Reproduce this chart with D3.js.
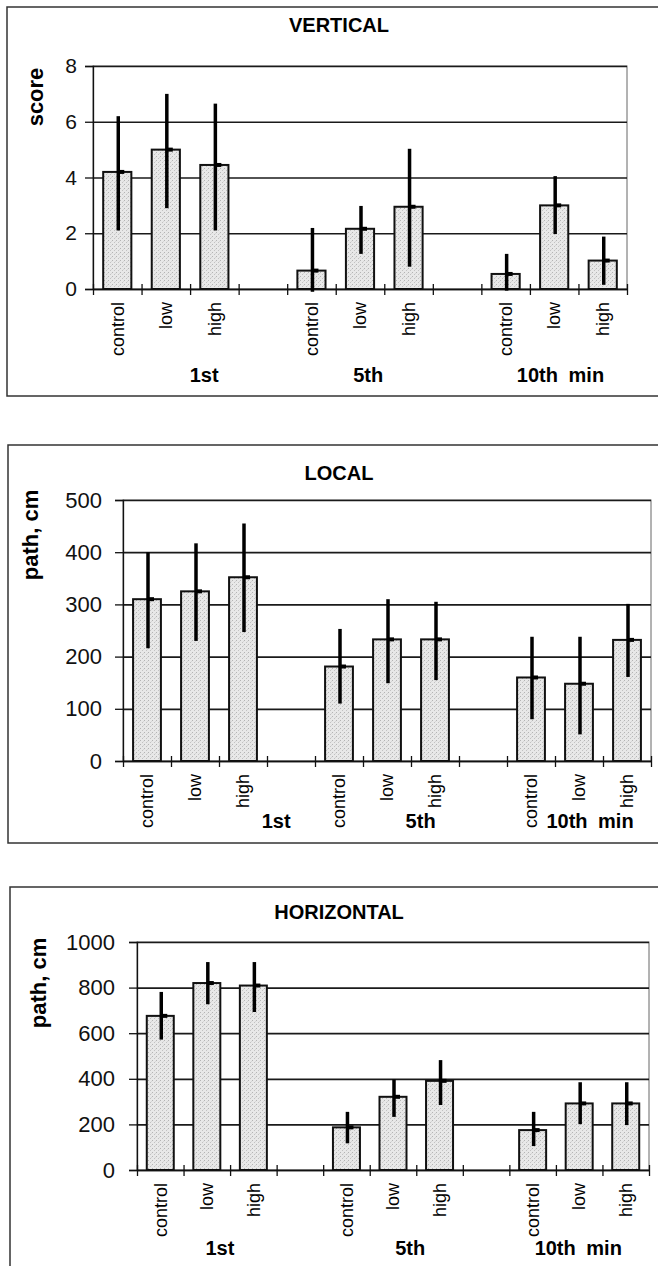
<!DOCTYPE html>
<html>
<head>
<meta charset="utf-8">
<style>
  body { margin: 0; background: #fff; }
  svg { display: block; font-family: "Liberation Sans", Arial, sans-serif; }
</style>
</head>
<body>
<svg width="658" height="1266"></svg>
<script src="https://d3js.org/d3.v7.min.js"></script>
<script>
// categories
var sessions = ["1st", "5th", "10th min"];
var doses = ["control", "low", "high"];

// VERTICAL (score) - mean, upper and lower end of the error bar
var verticalMean = [4.2, 5.0, 4.45, 0.66, 2.16, 2.95, 0.54, 3.0, 1.02];
var verticalHigh = [6.2, 7.0, 6.65, 2.19, 2.98, 5.03, 1.26, 4.05, 1.88];
var verticalLow  = [2.1, 2.9, 2.1, -0.1, 1.26, 0.8, -0.06, 1.97, 0.15];
var verticalTicks = [0, 2, 4, 6, 8];

// LOCAL (path, cm)
var localMean = [310, 325, 352, 181, 233, 233, 160, 148, 232];
var localHigh = [400, 417, 455, 253, 310, 305, 238, 238, 301];
var localLow  = [216, 230, 247, 110, 149, 155, 80, 51, 161];
var localTicks = [0, 100, 200, 300, 400, 500];

// HORIZONTAL (path, cm)
var horizontalMean = [676, 820, 809, 187, 321, 391, 175, 292, 292];
var horizontalHigh = [781, 912, 912, 255, 397, 482, 255, 385, 385];
var horizontalLow  = [572, 727, 693, 117, 233, 285, 105, 201, 197];
var horizontalTicks = [0, 200, 400, 600, 800, 1000];

var panels = [
    { title: "VERTICAL", ylabel: "score", mean: verticalMean, hi: verticalHigh, lo: verticalLow, ticks: verticalTicks,
      frame: [7, 7, 396], plot: [93, 627, 66, 289], titleY: 32, ylabX: 43, ylabY: 97, tickFont: 21, labGap: 16,
      groupY: 382, groupPos: [2.29, 5.67, 9.63] },
    { title: "LOCAL", ylabel: "path, cm", mean: localMean, hi: localHigh, lo: localLow, ticks: localTicks,
      frame: [8, 445, 843], plot: [123, 651, 500, 761], titleY: 480, ylabX: 38, ylabY: 535, tickFont: 22, labGap: 21,
      groupY: 828, groupPos: [3.19, 6.2, 9.73] },
    { title: "HORIZONTAL", ylabel: "path, cm", mean: horizontalMean, hi: horizontalHigh, lo: horizontalLow, ticks: horizontalTicks,
      frame: [10, 887, 1290], plot: [137, 649, 942, 1170], titleY: 919, ylabX: 46, ylabY: 983, tickFont: 22, labGap: 22,
      groupY: 1255, groupPos: [1.78, 5.87, 9.48] }
];

var svg = d3.select("svg");

// stippled grey fill like the scan
var pat = svg.append("defs").append("pattern")
    .attr("id", "stipple").attr("patternUnits", "userSpaceOnUse")
    .attr("width", 4).attr("height", 4);
pat.append("rect").attr("width", 4).attr("height", 4).attr("fill", "#e8e8e8");
pat.append("rect").attr("x", 0).attr("y", 0).attr("width", 1).attr("height", 1).attr("fill", "#b4b4b4");
pat.append("rect").attr("x", 2).attr("y", 2).attr("width", 1).attr("height", 1).attr("fill", "#c2c2c2");
pat.append("rect").attr("x", 3).attr("y", 1).attr("width", 1).attr("height", 1).attr("fill", "#d6d6d6");

// slot keys: 3 doses per session, with an empty slot between sessions
var slots = [];
sessions.forEach(function (s, i) {
    doses.forEach(function (d) { slots.push(s + "|" + d); });
    if (i < sessions.length - 1) slots.push("gap" + i);
});

panels.forEach(function (p) {
    var left = p.plot[0], right = p.plot[1], top = p.plot[2], bottom = p.plot[3];
    var g = svg.append("g");

    // outer frame (runs off the right edge like the original)
    g.append("rect")
        .attr("x", p.frame[0]).attr("y", p.frame[1])
        .attr("width", 700).attr("height", p.frame[2] - p.frame[1])
        .attr("fill", "none").attr("stroke", "#333").attr("stroke-width", 1.5);

    var x = d3.scaleBand().domain(slots).range([left, right]).paddingInner(0.42).paddingOuter(0.21);
    var xEdge = d3.scaleLinear().domain([0, slots.length]).range([left, right]);
    var y = d3.scaleLinear().domain([0, d3.max(p.ticks)]).range([bottom, top]);

    // title
    g.append("text")
        .attr("x", 339).attr("y", p.titleY)
        .attr("text-anchor", "middle")
        .style("font-size", "20px").style("font-weight", "bold")
        .text(p.title);

    // plot area border
    g.append("rect")
        .attr("x", left).attr("y", top).attr("width", right - left).attr("height", bottom - top)
        .attr("fill", "none").attr("stroke", "#666").attr("stroke-width", 1);

    // gridlines
    var grid = g.append("g")
        .attr("transform", "translate(" + left + ",0)")
        .call(d3.axisLeft(y).tickValues(p.ticks).tickSize(-(right - left)).tickFormat(""));
    grid.select(".domain").remove();
    grid.selectAll("line").attr("stroke", "#1a1a1a").attr("stroke-width", 1.7);

    // y axis with labels
    var ya = g.append("g")
        .attr("transform", "translate(" + left + ",0)")
        .call(d3.axisLeft(y).tickValues(p.ticks).tickSize(8).tickPadding(p.labGap - 8).tickFormat(d3.format("d")));
    ya.select(".domain").attr("stroke", "#111").attr("stroke-width", 1.3);
    ya.selectAll("line").attr("stroke", "#111").attr("stroke-width", 1.3);
    ya.selectAll("text")
        .style("font-family", "'Liberation Sans', Arial, sans-serif")
        .style("font-size", p.tickFont + "px").attr("fill", "#111");

    // y axis title
    g.append("text")
        .attr("transform", "translate(" + p.ylabX + "," + p.ylabY + ")rotate(-90)")
        .attr("text-anchor", "middle")
        .style("font-size", "22px").style("font-weight", "bold")
        .text(p.ylabel);

    // bars
    var rows = [];
    sessions.forEach(function (s, i) {
        doses.forEach(function (d, j) {
            var k = i * 3 + j;
            rows.push({ key: s + "|" + d, dose: d, mean: p.mean[k], hi: p.hi[k], lo: p.lo[k] });
        });
    });

    g.append("g").selectAll("rect")
        .data(rows).enter().append("rect")
        .attr("x", function (d) { return x(d.key); })
        .attr("y", function (d) { return y(d.mean); })
        .attr("width", x.bandwidth())
        .attr("height", function (d) { return y(0) - y(d.mean); })
        .attr("fill", "url(#stipple)")
        .attr("stroke", "#111").attr("stroke-width", 2);

    // x axis: zero line with cross ticks at slot edges
    var xa = g.append("g")
        .attr("transform", "translate(0," + bottom + ")")
        .call(d3.axisBottom(xEdge).tickValues(d3.range(0, slots.length + 1)).tickSize(6).tickSizeOuter(0).tickFormat(""));
    xa.select(".domain").attr("stroke", "#111").attr("stroke-width", 1.6);
    xa.selectAll(".tick line").attr("y1", -5).attr("stroke", "#111").attr("stroke-width", 1.3);

    // error bars with mean marker
    var eb = g.append("g");
    eb.selectAll("line")
        .data(rows).enter().append("line")
        .attr("x1", function (d) { return x(d.key) + x.bandwidth() / 2 + 1; })
        .attr("x2", function (d) { return x(d.key) + x.bandwidth() / 2 + 1; })
        .attr("y1", function (d) { return y(d.hi); })
        .attr("y2", function (d) { return y(d.lo); })
        .attr("stroke", "#000").attr("stroke-width", 3.5);
    eb.selectAll("rect")
        .data(rows).enter().append("rect")
        .attr("x", function (d) { return x(d.key) + x.bandwidth() / 2; })
        .attr("y", function (d) { return y(d.mean) - 2; })
        .attr("width", 7).attr("height", 4)
        .attr("fill", "#000");

    // rotated dose labels
    g.append("g").selectAll("text")
        .data(rows).enter().append("text")
        .attr("transform", function (d) {
            return "translate(" + (x(d.key) + x.bandwidth() / 2) + "," + (bottom + 13) + ")rotate(-90)";
        })
        .attr("text-anchor", "end")
        .attr("dy", "0.35em")
        .style("font-size", "18px")
        .text(function (d) { return d.dose; });

    // session labels
    g.append("g").selectAll("text")
        .data(sessions).enter().append("text")
        .attr("x", function (d, i) { return xEdge(p.groupPos[i]); })
        .attr("y", p.groupY)
        .attr("text-anchor", "middle")
        .style("font-size", "20px").style("font-weight", "bold")
        .style("word-spacing", "5px")
        .text(function (d) { return d; });
});
</script>
</body>
</html>
